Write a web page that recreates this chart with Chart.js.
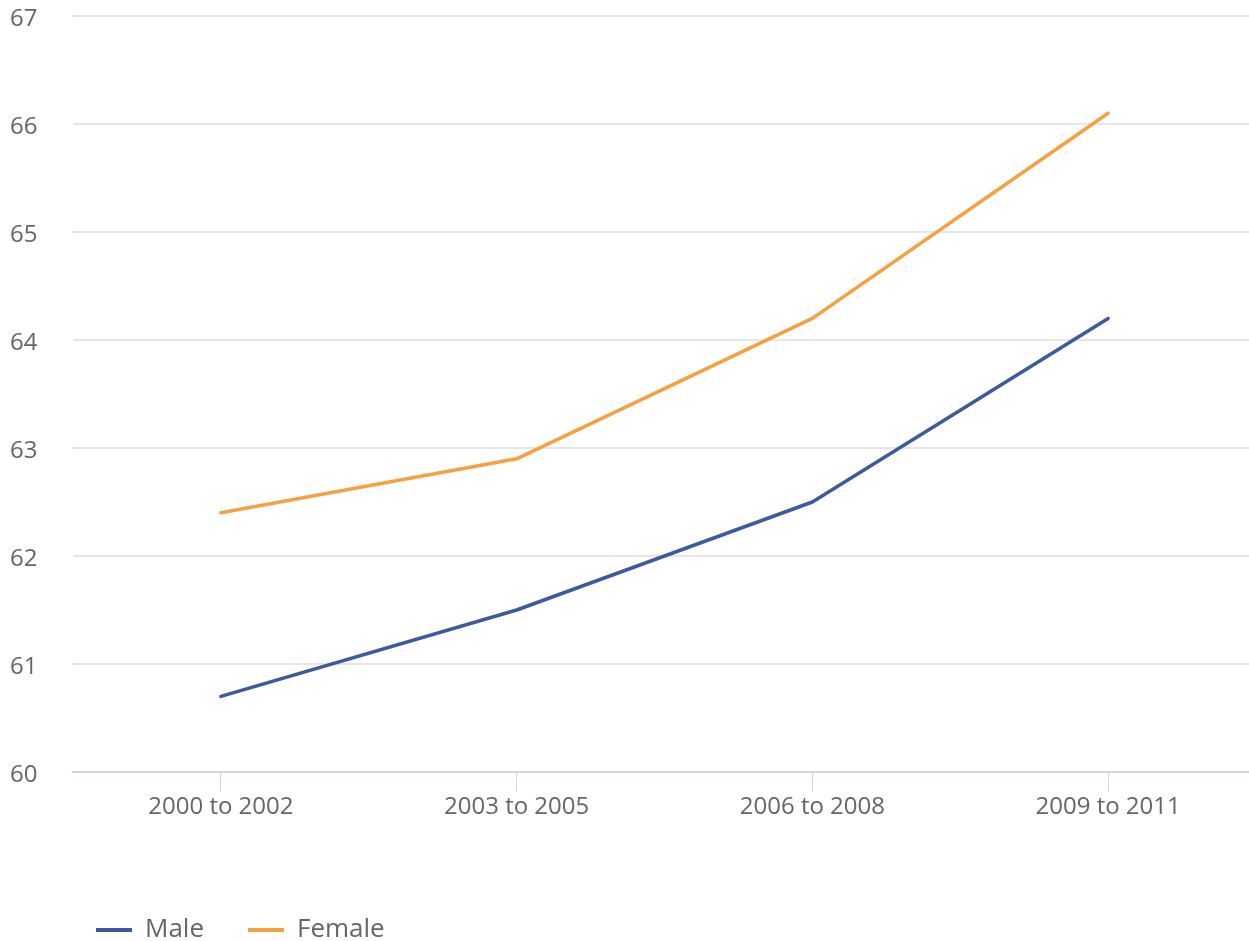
<!DOCTYPE html>
<html lang="en">
<head>
    <meta charset="UTF-8">
    <title>Line chart</title>
    <script src="https://cdn.jsdelivr.net/npm/chart.js"></script>
    <style>
        body { margin: 0; background: #fff; }
        #wrap { width: 1249px; height: 941px; }
    </style>
</head>
<body>
<div id="wrap"><canvas id="chart"></canvas></div>
<script>
    const periods = ['2000 to 2002', '2003 to 2005', '2006 to 2008', '2009 to 2011'];
    const maleValues = [60.7, 61.5, 62.5, 64.2];
    const femaleValues = [62.4, 62.9, 64.2, 66.1];
    const yMin = 60;
    const yMax = 67;

    Chart.defaults.font.family = "'Open Sans', sans-serif";
    Chart.defaults.color = '#666666';

    // nudge legend and x axis to match the original layout
    const layoutTweak = {
        id: 'layoutTweak',
        afterLayout(chart) {
            const lg = chart.legend;
            lg.left = 52;
            lg.top = chart.height - lg.height + 12;
            // categories in the original run a bit past the right edge
            const x = chart.scales.x;
            x.right = 1256;
            x.width = x.right - x.left;
            x.configure();
        }
    };

    new Chart(document.getElementById('chart'), {
        type: 'line',
        data: {
            labels: periods,
            datasets: [
                {
                    label: 'Male',
                    data: maleValues,
                    borderColor: '#3d5a9e',
                    backgroundColor: '#3d5a9e',
                    borderWidth: 3.5,
                    pointRadius: 0,
                    borderCapStyle: 'round',
                    borderJoinStyle: 'round'
                },
                {
                    label: 'Female',
                    data: femaleValues,
                    borderColor: '#f7a03f',
                    backgroundColor: '#f7a03f',
                    borderWidth: 3.5,
                    pointRadius: 0,
                    borderCapStyle: 'round',
                    borderJoinStyle: 'round'
                }
            ]
        },
        options: {
            responsive: true,
            maintainAspectRatio: false,
            animation: false,
            layout: { padding: { top: 0, left: 10, right: 0, bottom: 0 } },
            plugins: {
                tooltip: { enabled: false },
                legend: {
                    position: 'bottom',
                    align: 'start',
                    labels: {
                        boxWidth: 36,
                        boxHeight: 4,
                        padding: 44,
                        color: '#666666',
                        font: { size: 26 },
                        generateLabels: (chart) =>
                            Chart.defaults.plugins.legend.labels.generateLabels(chart)
                                .map(l => ({ ...l, lineWidth: 0, strokeStyle: 'rgba(0,0,0,0)' }))
                    }
                }
            },
            scales: {
                x: {
                    offset: true,
                    grid: {
                        offset: false,
                        drawOnChartArea: false,
                        drawTicks: true,
                        tickLength: 20,
                        color: '#ccd6eb'
                    },
                    border: { color: '#ccd6eb', width: 2 },
                    ticks: { color: '#666666', font: { size: 24 }, padding: 1, maxRotation: 0 },
                    afterFit: (s) => { s.height = 941 - 772 - s.chart.legend.height; }
                },
                y: {
                    min: yMin,
                    max: yMax,
                    grid: { color: '#e6e6e6', lineWidth: 2, drawTicks: false },
                    border: { display: false },
                    ticks: {
                        stepSize: 1,
                        color: '#666666',
                        font: { size: 24 },
                        crossAlign: 'far',
                        padding: 10,
                        labelOffset: 3
                    },
                    afterFit: (s) => { s.width = 63; s.paddingTop = 16; }
                }
            }
        },
        plugins: [layoutTweak]
    });
</script>
</body>
</html>
